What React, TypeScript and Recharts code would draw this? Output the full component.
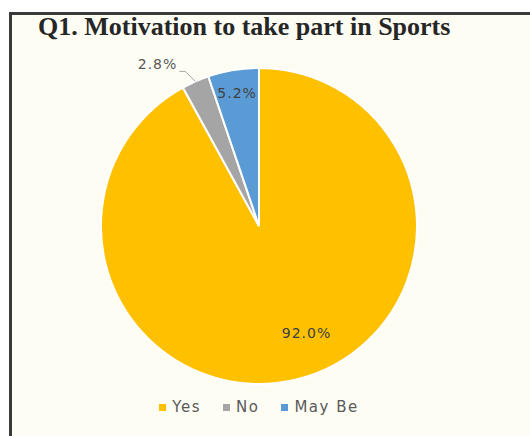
import { PieChart, Pie, Cell } from "recharts";

const categories = ["Yes", "No", "May Be"];
const shares = [92.0, 2.8, 5.2];
const sliceColors = ["#FFC000", "#A5A5A5", "#5B9BD5"];

const data = categories.map((name, i) => ({ name, value: shares[i] }));

const RAD = Math.PI / 180;
const LABEL_FONT = "'DejaVu Sans', sans-serif";

// Excel-style best-fit labels: the small slice gets an outside label with a leader line
function renderLabel(props: any) {
  const { cx, cy, midAngle, outerRadius, index, value } = props;
  const cos = Math.cos(-midAngle * RAD);
  const sin = Math.sin(-midAngle * RAD);
  const text = `${value.toFixed(1)}%`;

  if (index === 1) {
    const sx = cx + outerRadius * cos;
    const sy = cy + outerRadius * sin;
    const mx = sx - 10;
    const my = sy - 10;
    const ex = mx - 6;
    return (
      <g>
        <polyline
          points={`${sx},${sy} ${mx},${my} ${ex},${my}`}
          fill="none"
          stroke="#A6A6A6"
          strokeWidth={1}
        />
        <text
          x={ex - 2}
          y={my - 2}
          textAnchor="end"
          fill="#595959"
          fontSize={14}
          fontFamily={LABEL_FONT}
          letterSpacing={1}
        >
          {text}
        </text>
      </g>
    );
  }

  const r = index === 0 ? outerRadius * 0.7 : outerRadius * 0.85;
  const shift = index === 0 ? 20 : 0;
  return (
    <text
      x={cx + r * cos + shift}
      y={cy + r * sin}
      textAnchor="middle"
      dominantBaseline="central"
      fill="#404040"
      fontSize={14}
      fontFamily={LABEL_FONT}
      letterSpacing={1}
    >
      {text}
    </text>
  );
}

export default function App() {
  return (
    <div
      style={{
        position: "fixed",
        left: 0,
        top: 0,
        width: 530,
        height: 436,
        background: "#ffffff",
        overflow: "hidden",
      }}
    >
      <div
        style={{
          position: "absolute",
          left: 9,
          top: 12,
          right: 0,
          bottom: 0,
          background: "#FDFDF4",
          borderLeft: "3px solid #3a3a3a",
          borderTop: "3px solid #3a3a3a",
        }}
      />
      <div
        style={{
          position: "absolute",
          left: 38,
          top: 12,
          fontFamily: "'Liberation Serif', 'Times New Roman', serif",
          fontWeight: "bold",
          fontSize: 26,
          color: "#262626",
          whiteSpace: "nowrap",
        }}
      >
        Q1. Motivation to take part in Sports
      </div>
      <div style={{ position: "absolute", left: 0, top: 0 }}>
        <PieChart width={530} height={436} margin={{ top: 0, right: 0, bottom: 0, left: 0 }}>
          <Pie
            data={data}
            dataKey="value"
            nameKey="name"
            cx={259}
            cy={226}
            outerRadius={158}
            startAngle={90}
            endAngle={-270}
            stroke="#ffffff"
            strokeWidth={2}
            labelLine={false}
            label={renderLabel}
            isAnimationActive={false}
          >
            {data.map((d, i) => (
              <Cell key={d.name} fill={sliceColors[i]} />
            ))}
          </Pie>
        </PieChart>
      </div>
      <div
        style={{
          position: "absolute",
          left: 0,
          width: 518,
          top: 398,
          display: "flex",
          justifyContent: "center",
          gap: 22,
          fontFamily: LABEL_FONT,
          fontSize: 15,
          letterSpacing: 1.5,
          color: "#595959",
        }}
      >
        {categories.map((c, i) => (
          <div key={c} style={{ display: "flex", alignItems: "center", gap: 6 }}>
            <span
              style={{
                width: 7,
                height: 7,
                background: sliceColors[i],
                display: "inline-block",
              }}
            />
            <span>{c}</span>
          </div>
        ))}
      </div>
    </div>
  );
}
